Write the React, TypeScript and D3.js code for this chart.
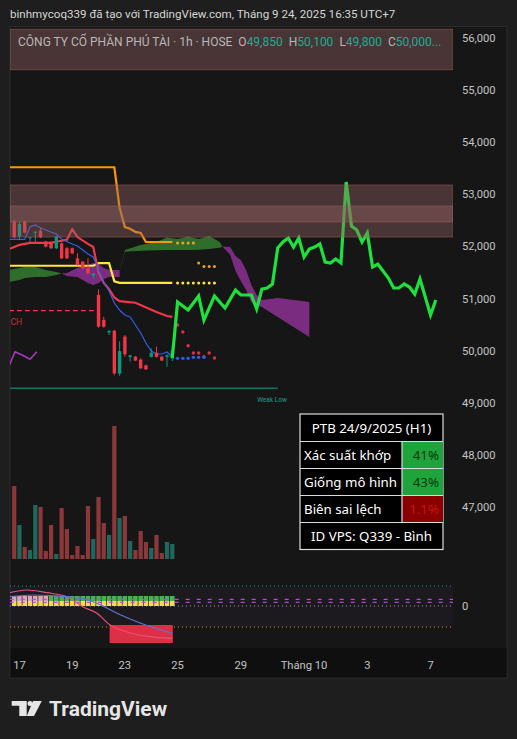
import React from "react";
import * as d3 from "d3";

const FONT = "Roboto, 'Noto Sans', sans-serif";

// ---------- axes ----------
const priceTicks = [56000, 55000, 54000, 53000, 52000, 51000, 50000, 49000, 48000, 47000];
const timeTickBars = [1, 11, 21, 31, 43, 55, 67, 79];
const timeTickLabels = ["17", "19", "23", "25", "29", "Tháng 10", "3", "7"];

// ---------- candles (bar index 0..30) ----------
const candleOpen = [52475, 52190, 52475, 52160, 52260, 52300, 52092, 52090, 51965, 52060, 51965, 51965, 51772, 51708, 51580, 51440, 51070, 50590, 50350, 50383, 49560, 50270, 49880, 49885, 49830, 49720, 49880, 49960, 49885, 49880, 49850];
const candleHigh = [52520, 52475, 52500, 52180, 52290, 52367, 52110, 52100, 52200, 52080, 51990, 51980, 51868, 51720, 51772, 51484, 51180, 50650, 50390, 50400, 50180, 50300, 49920, 49900, 49850, 49730, 50045, 50080, 49900, 49930, 50100];
const candleLow = [52150, 52124, 52250, 52080, 52080, 52160, 51980, 51950, 51950, 51760, 51760, 51850, 51630, 51570, 51470, 51388, 50440, 50440, 50300, 49530, 49520, 49880, 49790, 49800, 49650, 49630, 49870, 49870, 49800, 49690, 49800];
const candleClose = [52175, 52430, 52265, 52175, 52283, 52175, 51995, 51965, 52187, 51772, 51772, 51868, 51644, 51580, 51484, 51480, 50460, 50460, 50380, 49565, 49990, 49930, 49910, 49810, 49660, 49640, 49960, 49880, 49810, 49910, 50000];
const volumes = [365000, 170000, 60000, 45000, 270000, 260000, 40000, 170000, 25000, 255000, 150000, 20000, 65000, 20000, 265000, 100000, 310000, 180000, 120000, 665000, 205000, 215000, 90000, 45000, 140000, 85000, 55000, 120000, 30000, 85000, 75000];

// ---------- indicator lines [bar, price] ----------
const orangeLine = [[-1, 53520], [19, 53520], [20, 52740], [21, 52370], [22, 52340], [23, 52280], [24, 52260], [25, 52085], [30, 52085]];
const yellowLine = [[-1, 51630], [15, 51630], [16, 51680], [18, 51680], [19, 51330], [20, 51300], [30, 51300]];
const redLine = [[-1, 51950], [1, 52030], [3, 52070], [7, 52070], [8, 52090], [10, 52130], [11, 52330], [12, 52180], [14, 52050], [15, 51990], [16, 51500], [17, 51300], [18, 51180], [19, 51020], [20, 50950], [23, 50920], [27, 50740], [29, 50665], [30, 50650]];
const blueLine = [[-1, 52137], [2, 52137], [3, 52373], [4, 52411], [5, 52354], [7, 52277], [8, 52239], [9, 52143], [11, 52047], [12, 52009], [14, 51855], [15, 51797], [16, 51548], [17, 51318], [18, 51145], [19, 50915], [20, 50780], [21, 50684], [22, 50646], [23, 50492], [24, 50339], [25, 50147], [26, 49994], [27, 49936], [28, 49936], [29, 49974], [30, 49878]];
const purpleLine = [[-1, 49700], [0.15, 49980], [1.4, 49920], [3, 49834], [4.3, 49980]];
const forecastLine = [[30, 49860], [31, 50934], [33, 50780], [35, 51049], [36, 50588], [38, 51049], [40, 50819], [42, 51164], [43, 51068], [45, 51068], [46, 50800], [47, 51183], [48, 51203], [49, 51279], [50, 51970], [51, 52085], [52, 52162], [53, 51989], [54, 52162], [55, 51797], [56, 51951], [57, 51989], [58, 52047], [59, 51701], [60, 51682], [61, 51759], [62, 51682], [63, 53237], [64, 52392], [65, 52315], [66, 52085], [67, 52258], [68, 51605], [69, 51663], [71, 51394], [72, 51203], [73, 51203], [74, 51279], [75, 51222], [76, 51087], [77, 51375], [79, 50684], [80, 50972]];

// ---------- projected dots ----------
const dotBars = [31, 32, 33, 34, 35, 36, 37, 38];
const redDots = [50493, 50358, 50095, 49955, 49955, 49884, 49955, 49859];
const blueDots = [49853, 49853, 49853, 49872, 49872, 49872];
const orangeDotsHigh = [52066, 52066, 52066, 52066];
const orangeDotsLow = [51682, 51615, 51615, 51615];
const yellowDots = [51300, 51300, 51300, 51300, 51300, 51300, 51300, 51300];

// ---------- cloud [bar, upper, lower] ----------
const cloudGreen1 = [[-1, 51548, 51318], [1, 51586, 51356], [2, 51605, 51394], [4, 51605, 51414], [6, 51548, 51414], [8, 51510, 51452], [9, 51481, 51481]];
const cloudPurple1 = [[9, 51481, 51481], [10, 51490, 51433], [12, 51586, 51414], [14, 51644, 51298], [15, 51682, 51260], [16, 51663, 51298], [17, 51586, 51375], [18, 51548, 51414], [20, 51548, 51414]];
const cloudGreen2 = [[20, 51510, 51500], [21, 51932, 51900], [24, 52028, 51915], [27, 52085, 51925], [29, 52171, 51930], [31, 52143, 51930], [33, 52190, 51932], [35, 52143, 51935], [37, 52200, 51950], [39, 52085, 51975], [39.5, 52000, 52000]];
const cloudPurple2 = [[39.5, 52000, 52000], [41, 51989, 51836], [42, 51817, 51529], [43, 51740, 51337], [44, 51548, 51164], [45, 51260, 50934], [46, 51068, 50876], [47, 50972, 50838], [50, 51011, 50646], [53, 50972, 50454], [56, 50934, 50262]];

// ---------- zones / levels ----------
const headerZone = [55390, 56170];
const supplyZoneOuter = [52180, 53180];
const supplyZoneInner = [52470, 52775];
const chochLevel = 50770;
const chochBars = [-1, 15.5];
const weakLowLevel = 49280;
const weakLowBars = [-1, 50];

// ---------- lower oscillator ----------
const oscPink = [[-1, 13], [2.4, 16], [6.2, 13.3], [10, 9.3], [13, -0.7], [15.7, -7.3], [18.2, -19], [21.3, -25.7], [25.8, -30.7], [30, -32.3]];
const oscBlue = [[-1, 9.3], [3.6, 11], [10, 9.3], [15, 4.3], [19.4, -7], [23.9, -17], [30, -27.3]];
const oscLevels = [20, 0, -21];
const oscBox = { bars: [18.1, 30.1], range: [-37, -19] };
const squareTopBull = [0, 0, 0, 0, 0, 0, 0, 1, 1, 1, 1, 1, 1, 1, 1, 1, 1, 1, 1, 1, 1, 1, 1, 1, 1, 1, 1, 1, 1, 1, 1];

// ---------- table ----------
const tableTitle = "PTB 24/9/2025 (H1)";
const tableLabels = ["Xác suất khớp", "Giống mô hình", "Biên sai lệch"];
const tableValues = ["41%", "43%", "1.1%"];
const tableFills = ["#1fa33b", "#1fa33b", "#8a0000"];
const tableTextFills = ["#0b3a10", "#0b3a10", "#c01818"];
const tableFooter = "ID VPS: Q339 - Bình";

export default function App() {
  const PL = 10, PR = 453, PT = 27, PB = 575;
  const x = d3.scaleLinear().domain([0, 80]).range([14.2, 435.8]);
  const y = d3.scaleLinear().domain([47000, 56000]).range([507, 38]);
  const yv = d3.scaleLinear().domain([0, d3.max(volumes) as number]).range([559, 426]);
  const yo = d3.scaleLinear().domain([-40, 40]).range([646, 566]);
  const line = d3.line<number[]>().x((d) => x(d[0])).y((d) => y(d[1]));
  const area = d3.area<number[]>().x((d) => x(d[0])).y0((d) => y(d[2])).y1((d) => y(d[1]));
  const oline = d3.line<number[]>().x((d) => x(d[0])).y((d) => yo(d[1])).curve(d3.curveMonotoneX);

  const candles = candleOpen.map((o, i) => ({ i, o, h: candleHigh[i], l: candleLow[i], c: candleClose[i] }));
  const UP = "#089981", DOWN = "#f23645";
  const zoneFill = "rgba(150,100,100,0.4)";
  const zoneStroke = "rgba(170,100,100,0.55)";
  const eqMarks = d3.range(41).map((k) => -0.47 + k * 2.087);

  const tX0 = 300, tX1 = 443, tSplit = 402;
  const rowYs = [414, 441.5, 468.5, 495.5, 522.5, 549.5];

  return (
    <svg width={517} height={739} style={{ position: "absolute", left: 0, top: 0, background: "#1e1e1e" }} fontFamily={FONT}>
      <defs>
        <clipPath id="plot"><rect x={PL} y={PT} width={PR - PL} height={PB - PT} /></clipPath>
        <clipPath id="osc"><rect x={PL} y={575} width={PR - PL} height={73} /></clipPath>
      </defs>
      {/* title */}
      <text x={10} y={18} fontSize={11.6} fill="#d6d6d6">binhmycoq339 đã tạo với TradingView.com, Tháng 9 24, 2025 16:35 UTC+7</text>
      {/* chart frame */}
      <rect x={10} y={26.5} width={497} height={651.5} fill="#161616" stroke="#2c2c2c" strokeWidth={1} />
      <rect x={10.5} y={648} width={496} height={29.5} fill="#0f0f0f" />

      <g clipPath="url(#plot)">
        {/* volumes */}
        {candles.map((d) => (
          <rect key={"v" + d.i} x={x(d.i) - 2.1} width={4.2} y={yv(volumes[d.i])} height={559 - yv(volumes[d.i])} fill={d.c >= d.o ? "#1e695f" : "#8c373a"} />
        ))}
        {/* clouds */}
        <path d={area(cloudGreen1) as string} fill="#2f6e2a" />
        <path d={area(cloudPurple1) as string} fill="#7a2d80" />
        <path d={area(cloudGreen2) as string} fill="#2f6e2a" />
        <path d={area(cloudPurple2) as string} fill="#7a2d80" />
        {/* levels */}
        <line x1={x(chochBars[0])} x2={x(chochBars[1])} y1={y(chochLevel)} y2={y(chochLevel)} stroke={DOWN} strokeWidth={1.3} strokeDasharray="5,3" />
        <line x1={x(weakLowBars[0])} x2={x(weakLowBars[1])} y1={y(weakLowLevel)} y2={y(weakLowLevel)} stroke="#1f9e8c" strokeWidth={1} />
        <text x={272} y={y(weakLowLevel) + 14} fontSize={6.5} fill="#1f9e8c" textAnchor="middle">Weak Low</text>
        {/* lines */}
        <path d={line(purpleLine) as string} fill="none" stroke="#a83ac0" strokeWidth={1.6} />
        <path d={line(orangeLine) as string} fill="none" stroke="#ff9800" strokeWidth={2.2} />
        <path d={line(yellowLine) as string} fill="none" stroke="#ffe83b" strokeWidth={2.2} />
        <path d={line(redLine) as string} fill="none" stroke="#f03848" strokeWidth={2.2} />
        <path d={line(blueLine) as string} fill="none" stroke="#3060e8" strokeWidth={1.2} />
        {/* candles */}
        {candles.map((d) => {
          const col = d.c >= d.o ? UP : DOWN;
          const top = y(Math.max(d.o, d.c));
          const bot = y(Math.min(d.o, d.c));
          return (
            <g key={"c" + d.i}>
              <line x1={x(d.i)} x2={x(d.i)} y1={y(d.h)} y2={y(d.l)} stroke={col} strokeWidth={1} />
              <rect x={x(d.i) - 1.7} width={3.4} y={top} height={Math.max(1, bot - top)} fill={col} />
            </g>
          );
        })}
        {/* dots */}
        {yellowDots.map((v, k) => <circle key={"yd" + k} cx={x(dotBars[k])} cy={y(v)} r={1.5} fill="#ffe83b" />)}
        {orangeDotsHigh.map((v, k) => <circle key={"oh" + k} cx={x(dotBars[k])} cy={y(v)} r={1.5} fill="#f0a020" />)}
        {orangeDotsLow.map((v, k) => <circle key={"ol" + k} cx={x(dotBars[k + 4])} cy={y(v)} r={1.5} fill="#f0a020" />)}
        {redDots.map((v, k) => <circle key={"rd" + k} cx={x(dotBars[k])} cy={y(v)} r={1.7} fill="#e03048" />)}
        {blueDots.map((v, k) => <circle key={"bd" + k} cx={x(dotBars[k])} cy={y(v)} r={1.7} fill="#3060e8" />)}
        {/* forecast */}
        <path d={line(forecastLine) as string} fill="none" stroke="#1fe03c" strokeWidth={3.2} strokeLinejoin="miter" />
        {/* zones */}
        <rect x={PL} width={PR - PL} y={y(headerZone[1])} height={y(headerZone[0]) - y(headerZone[1])} fill={zoneFill} stroke={zoneStroke} strokeWidth={0.8} />
        <rect x={PL} width={PR - PL} y={y(supplyZoneOuter[1])} height={y(supplyZoneOuter[0]) - y(supplyZoneOuter[1])} fill={zoneFill} stroke={zoneStroke} strokeWidth={0.8} />
        <rect x={PL} width={PR - PL} y={y(supplyZoneInner[1])} height={y(supplyZoneInner[0]) - y(supplyZoneInner[1])} fill={zoneFill} stroke={zoneStroke} strokeWidth={0.8} />
      </g>
      <text x={10.5} y={y(chochLevel) + 14} fontSize={8.5} fill="#c8303f">CH</text>

      {/* header legend */}
      <text x={18} y={46} fontSize={12} fill="#b8b8b8">
        <tspan>CÔNG TY CỔ PHẦN PHÚ TÀI · 1h · HOSE</tspan>
        <tspan dx={6}>O</tspan><tspan fill="#22ab94">49,850</tspan>
        <tspan dx={6}>H</tspan><tspan fill="#22ab94">50,100</tspan>
        <tspan dx={6}>L</tspan><tspan fill="#22ab94">49,800</tspan>
        <tspan dx={6}>C</tspan><tspan fill="#22ab94">50,000...</tspan>
      </text>

      {/* price axis */}
      {priceTicks.map((p) => (
        <text key={"p" + p} x={462} y={y(p) + 4} fontSize={11.2} fill="#c4c4c4">{d3.format(",")(p)}</text>
      ))}

      {/* oscillator pane */}
      <g clipPath="url(#osc)">
        <rect x={PL} width={PR - PL} y={yo(oscLevels[0])} height={yo(oscLevels[2]) - yo(oscLevels[0])} fill="rgba(120,80,160,0.07)" />
        <line x1={PL} x2={PR} y1={yo(oscLevels[0])} y2={yo(oscLevels[0])} stroke="#2a8c84" strokeWidth={1} strokeDasharray="1,3" />
        <line x1={PL} x2={PR} y1={yo(oscLevels[1])} y2={yo(oscLevels[1])} stroke="#9a9a9a" strokeWidth={1} strokeDasharray="1,3" />
        <line x1={PL} x2={PR} y1={yo(oscLevels[2])} y2={yo(oscLevels[2])} stroke="#e08a10" strokeWidth={1} strokeDasharray="1,3" />
        {squareTopBull.map((b, i) => (
          <g key={"sq" + i}>
            <rect x={x(i) - 2.3} width={4.6} y={yo(10)} height={yo(5) - yo(10)} fill={b ? "#4caf50" : "#d8a8b8"} />
            <rect x={x(i) - 2.3} width={4.6} y={yo(5)} height={yo(0) - yo(5)} fill="#f2dc48" />
          </g>
        ))}
        {eqMarks.map((b, k) => (
          <g key={"eq" + k}>
            <rect x={x(b) - 2} width={4} y={yo(7.2)} height={1.2} fill="#b848e0" />
            <rect x={x(b) - 2} width={4} y={yo(4.3)} height={1.2} fill="#b848e0" />
          </g>
        ))}
        <rect x={x(oscBox.bars[0])} width={x(oscBox.bars[1]) - x(oscBox.bars[0])} y={yo(oscBox.range[1])} height={yo(oscBox.range[0]) - yo(oscBox.range[1])} fill="#dc3045" />
        <path d={oline(oscPink) as string} fill="none" stroke="#e8507a" strokeWidth={1.2} />
        <path d={oline(oscBlue) as string} fill="none" stroke="#5a78d0" strokeWidth={1.2} />
      </g>
      <text x={462} y={yo(0) + 4} fontSize={11.2} fill="#c4c4c4">0</text>

      {/* time axis */}
      {timeTickBars.map((b, k) => (
        <text key={"t" + k} x={x(b)} y={669} fontSize={11.2} fill="#c4c4c4" textAnchor="middle">{timeTickLabels[k]}</text>
      ))}

      {/* table */}
      <g fontFamily="'Noto Sans', sans-serif" fontSize={13.3}>
        <rect x={tX0} y={rowYs[0]} width={tX1 - tX0} height={rowYs[5] - rowYs[0]} fill="#000" stroke="#dcdcdc" strokeWidth={1.2} />
        {tableValues.map((v, k) => (
          <rect key={"tf" + k} x={tSplit} y={rowYs[k + 1]} width={tX1 - tSplit} height={rowYs[k + 2] - rowYs[k + 1]} fill={tableFills[k]} />
        ))}
        {rowYs.slice(1, 5).map((ry, k) => (
          <line key={"tl" + k} x1={tX0} x2={tX1} y1={ry} y2={ry} stroke="#dcdcdc" strokeWidth={1.2} />
        ))}
        <line x1={tSplit} x2={tSplit} y1={rowYs[1]} y2={rowYs[4]} stroke="#dcdcdc" strokeWidth={1.2} />
        <text x={(tX0 + tX1) / 2} y={rowYs[0] + 18.5} fill="#fff" textAnchor="middle">{tableTitle}</text>
        {tableLabels.map((t, k) => (
          <text key={"tt" + k} x={tX0 + 4} y={rowYs[k + 1] + 18.5} fill="#fff">{t}</text>
        ))}
        {tableValues.map((t, k) => (
          <text key={"tv" + k} x={tX1 - 4} y={rowYs[k + 1] + 18.5} fill={tableTextFills[k]} textAnchor="end">{t}</text>
        ))}
        <text x={(tX0 + tX1) / 2} y={rowYs[4] + 18.5} fill="#fff" textAnchor="middle">{tableFooter}</text>
      </g>

      {/* TradingView logo */}
      <g fill="#e6e6e6">
        <path d="M11.7,701 H26.7 V716 H19.3 V705.7 H11.7 Z" />
        <circle cx={30} cy={703.4} r={2.5} />
        <path d="M33,701 H41.8 L34,716 H26.8 Z" />
        <text x={49} y={716} fontSize={21} fontWeight={700} fontFamily="Roboto, sans-serif">TradingView</text>
      </g>
    </svg>
  );
}
